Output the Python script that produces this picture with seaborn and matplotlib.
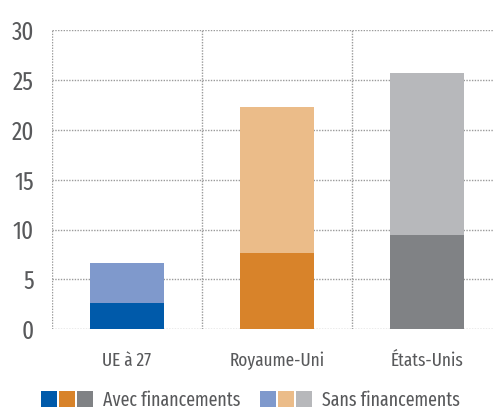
import matplotlib
matplotlib.use("Agg")
import matplotlib.pyplot as plt
from matplotlib.patches import Patch
from matplotlib.legend_handler import HandlerTuple
import seaborn as sns
import pandas as pd

# Data
categories = ["UE à 27", "Royaume-Uni", "États-Unis"]
avec_financements = [2.6, 7.6, 9.5]
sans_financements = [4.0, 14.7, 16.2]
y_ticks = [0, 5, 10, 15, 20, 25, 30]

dark_colors = ["#005aaa", "#d8832a", "#808285"]
light_colors = ["#7f99cc", "#ebbc89", "#b7b8bb"]

sns.set_theme(style="white")
plt.rcParams["font.family"] = ["Fira Sans Extra Condensed", "DejaVu Sans"]
text_color = "#58595b"

df = pd.DataFrame({
    "pays": categories,
    "avec": avec_financements,
    "total": [a + s for a, s in zip(avec_financements, sans_financements)],
})

fig = plt.figure(figsize=(4.93, 4.19), dpi=100)
ax = fig.add_axes([52 / 493, (419 - 329.3) / 419, (493 - 52) / 493, 299.3 / 419])

# Stacked bars: full height in the light tone, financed part in the dark tone
sns.barplot(data=df, x="pays", y="total", hue="pays", palette=light_colors,
            saturation=1, width=0.49, linewidth=0, legend=False, ax=ax, zorder=3)
sns.barplot(data=df, x="pays", y="avec", hue="pays", palette=dark_colors,
            saturation=1, width=0.49, linewidth=0, legend=False, ax=ax, zorder=4)

ax.set_ylim(0, 30)
ax.set_xlim(-0.5, 2.44)
ax.set_yticks(y_ticks)
ax.set_xticks([-0.5, 0.5, 1.5], minor=True)
ax.set_xlabel("")
ax.set_ylabel("")

for s in ax.spines.values():
    s.set_visible(False)

grid_kw = dict(color="#9a9a9a", linestyle=(0, (1, 1)), linewidth=1.0)
ax.yaxis.grid(True, which="major", zorder=0, **grid_kw)
ax.xaxis.grid(True, which="minor", zorder=0, **grid_kw)
ax.xaxis.grid(False, which="major")
ax.set_axisbelow(True)

ax.tick_params(axis="y", length=0, pad=13, labelsize=18, labelcolor=text_color)
ax.tick_params(axis="x", which="both", length=0, pad=16, labelsize=13.5, labelcolor=text_color)

# Legend: three colour squares per series
avec_handles = tuple(Patch(facecolor=c, edgecolor="none") for c in dark_colors)
sans_handles = tuple(Patch(facecolor=c, edgecolor="none") for c in light_colors)
fig.legend([avec_handles, sans_handles], ["Avec financements", "Sans financements"],
           handler_map={tuple: HandlerTuple(ndivide=None, pad=0.1)},
           loc="lower center", bbox_to_anchor=(0.508, -0.02), ncol=2, frameon=False,
           fontsize=14, labelcolor=text_color, handlelength=2.68, handleheight=0.82,
           handletextpad=0.5, columnspacing=1.0)

fig.savefig("out.png", dpi=100)
